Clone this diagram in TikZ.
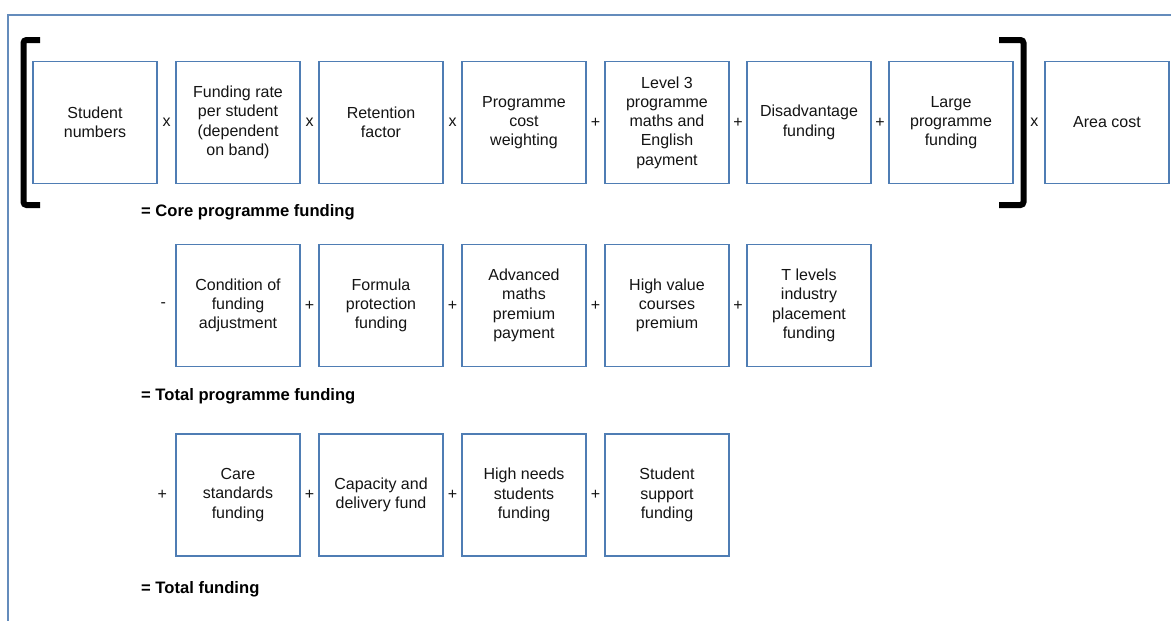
\documentclass[tikz,border=0pt]{standalone}
\usepackage{fontspec}
\setmainfont{Liberation Sans}
\usetikzlibrary{calc}
\definecolor{boxblue}{RGB}{79,125,180}
\definecolor{frameblue}{RGB}{100,140,188}
\definecolor{txt}{RGB}{20,20,20}
\tikzset{
  fbox/.style={draw=boxblue, line width=1.3pt, minimum width=124pt, minimum height=122pt,
    inner sep=0pt, align=center, text=txt, font=\fontsize{16}{19.3}\selectfont},
  op/.style={text=txt, inner sep=0pt, font=\fontsize{16}{19.3}\selectfont},
  total/.style={anchor=west, inner sep=0pt, text=black, font=\fontsize{16.6}{19}\selectfont\bfseries},
  bracket/.style={line width=6pt, rounded corners=3pt, black},
  frame/.style={draw=frameblue, line width=2pt}
}
\begin{document}
\begin{tikzpicture}[x=1pt,y=-1pt]
\useasboundingbox (0,0) rectangle (1171,621);
\fill[white] (0,0) rectangle (1171,621);
% frame
\coordinate (fbl) at (7.5,621);
\coordinate (ftl) at (7.5,14.5);
\coordinate (ftr) at (1171,14.5);
\draw[frame] (fbl) -- (ftl) -- (ftr);
% row 1
\node[fbox] (a1) at (95,122.5) {Student\\numbers};
\node[fbox] (a2) at (238,122.5) {Funding rate\\per student\\(dependent\\on band)};
\node[fbox] (a3) at (381,122.5) {Retention\\factor};
\node[fbox] (a4) at (524,122.5) {Programme\\cost\\weighting};
\node[fbox] (a5) at (667,122.5) {Level 3\\programme\\maths and\\English\\payment};
\node[fbox] (a6) at (809,122.5) {Disadvantage\\funding};
\node[fbox] (a7) at (951,122.5) {Large\\programme\\funding};
\node[fbox] (a8) at (1107,122.5) {Area cost};
\node[op] (o12) at ($(a1.east)!0.5!(a2.west)$) {x};
\node[op] (o23) at ($(a2.east)!0.5!(a3.west)$) {x};
\node[op] (o34) at ($(a3.east)!0.5!(a4.west)$) {x};
\node[op] (o45) at ($(a4.east)!0.5!(a5.west)$) {+};
\node[op] (o56) at ($(a5.east)!0.5!(a6.west)$) {+};
\node[op] (o67) at ($(a6.east)!0.5!(a7.west)$) {+};
\node[op] (o78) at ($(a8.west)+(-10,0)$) {x};
% brackets
\coordinate (lb1) at (40,40);
\coordinate (lb2) at (23.5,40);
\coordinate (lb3) at (23.5,205);
\coordinate (lb4) at (40,205);
\draw[bracket] (lb1) -- (lb2) -- (lb3) -- (lb4);
\coordinate (rb1) at (999,40);
\coordinate (rb2) at (1023.5,40);
\coordinate (rb3) at (1023.5,205);
\coordinate (rb4) at (999,205);
\draw[bracket] (rb1) -- (rb2) -- (rb3) -- (rb4);
\node[total] (t1) at (141,212) {= Core programme funding};
% row 2
\node[fbox] (b1) at (238,305.5) {Condition of\\funding\\adjustment};
\node[fbox] (b2) at (381,305.5) {Formula\\protection\\funding};
\node[fbox] (b3) at (524,305.5) {Advanced\\maths\\premium\\payment};
\node[fbox] (b4) at (667,305.5) {High value\\courses\\premium};
\node[fbox] (b5) at (809,305.5) {T levels\\industry\\placement\\funding};
\node[op] (p0) at ($(b1.west)+(-12,0)$) {-};
\node[op] (p12) at ($(b1.east)!0.5!(b2.west)$) {+};
\node[op] (p23) at ($(b2.east)!0.5!(b3.west)$) {+};
\node[op] (p34) at ($(b3.east)!0.5!(b4.west)$) {+};
\node[op] (p45) at ($(b4.east)!0.5!(b5.west)$) {+};
\node[total] (t2) at (141,396) {= Total programme funding};
% row 3
\node[fbox] (c1) at (238,495) {Care\\standards\\funding};
\node[fbox] (c2) at (381,495) {Capacity and\\delivery fund};
\node[fbox] (c3) at (524,495) {High needs\\students\\funding};
\node[fbox] (c4) at (667,495) {Student\\support\\funding};
\node[op] (q0) at ($(c1.west)+(-13,0)$) {+};
\node[op] (q12) at ($(c1.east)!0.5!(c2.west)$) {+};
\node[op] (q23) at ($(c2.east)!0.5!(c3.west)$) {+};
\node[op] (q34) at ($(c3.east)!0.5!(c4.west)$) {+};
\node[total] (t3) at (141,589) {= Total funding};
\end{tikzpicture}
\end{document}
